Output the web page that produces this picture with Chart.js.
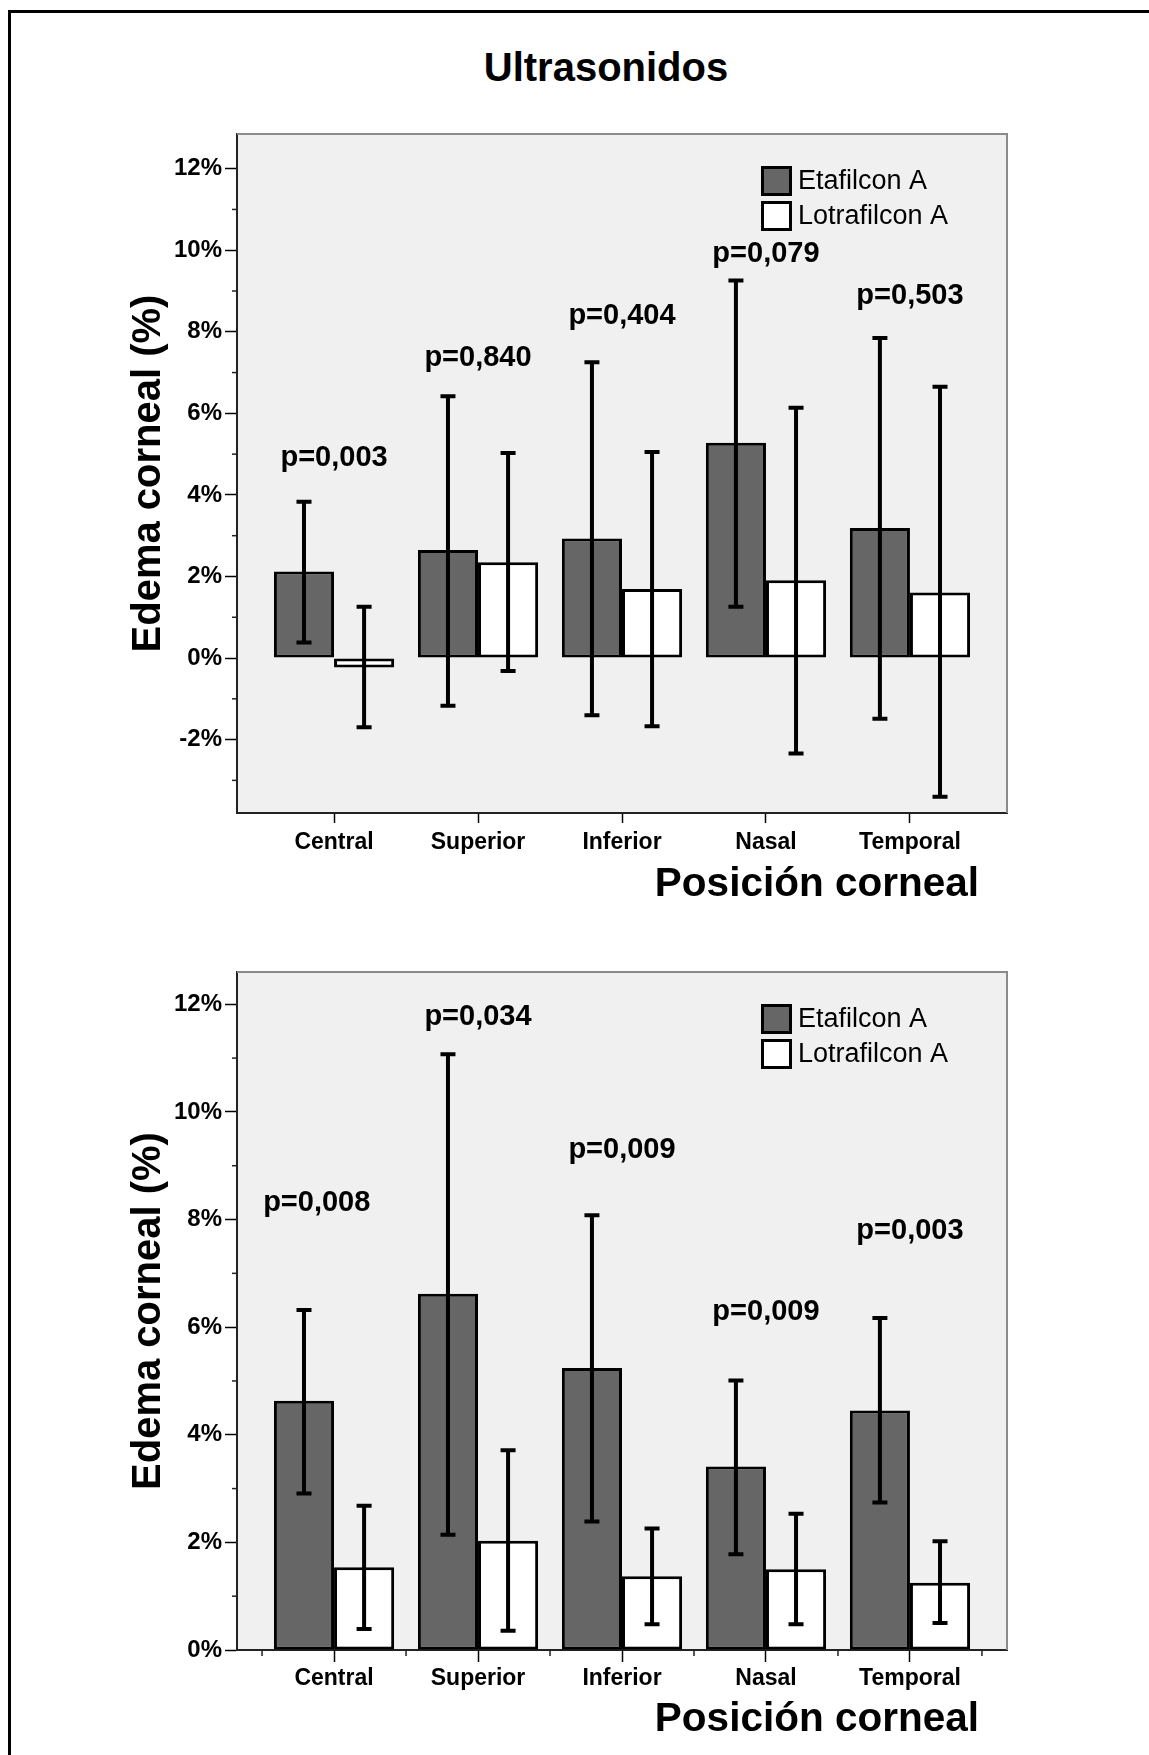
<!DOCTYPE html>
<html>
<head>
<meta charset="utf-8">
<script src="https://cdn.jsdelivr.net/npm/chart.js@4.4.1/dist/chart.umd.min.js"></script>
<style>
  html, body { margin: 0; padding: 0; background: #fff; }
  body { width: 1149px; height: 1755px; position: relative; overflow: hidden; font-family: 'Liberation Sans', Arial, sans-serif; }
  #frame { position: absolute; left: 8px; top: 10px; width: 1200px; height: 1800px; border-top: 3px solid #000; border-left: 3px solid #000; }
  #title { position: absolute; left: 0; top: 46px; width: 1212px; text-align: center; font-weight: bold; font-size: 40px; line-height: 42px; color: #000; }
  .box { position: absolute; left: 0; width: 1149px; }
  #box1 { top: 0; height: 900px; }
  #box2 { top: 902px; height: 853px; }
</style>
</head>
<body>
<div id="frame"></div>
<div id="title">Ultrasonidos</div>
<div class="box" id="box1"><canvas id="chart1" width="1149" height="900"></canvas></div>
<div class="box" id="box2"><canvas id="chart2" width="1149" height="853"></canvas></div>

<script>
// categories and series
const categories = ['Central', 'Superior', 'Inferior', 'Nasal', 'Temporal'];
const seriesNames = ['Etafilcon A', 'Lotrafilcon A'];

// upper chart (Ultrasonidos) - means and error bar limits, in %
const etaUS = [2.12, 2.65, 2.93, 5.28, 3.19];
const etaUSLow = [0.38, -1.17, -1.40, 1.26, -1.49];
const etaUSHigh = [3.83, 6.42, 7.25, 9.26, 7.85];
const lotUS = [-0.23, 2.35, 1.69, 1.91, 1.61];
const lotUSLow = [-1.70, -0.32, -1.67, -2.34, -3.40];
const lotUSHigh = [1.26, 5.03, 5.05, 6.14, 6.65];
const pUS = ['p=0,003', 'p=0,840', 'p=0,404', 'p=0,079', 'p=0,503'];
const pUSX = [0, 1, 2, 3, 4];
const pUSAt = [4.90, 7.35, 8.38, 9.90, 8.87];
const yTicksUS = [-2, 0, 2, 4, 6, 8, 10, 12];

// lower chart
const eta2 = [4.63, 6.62, 5.24, 3.41, 4.45];
const eta2Low = [2.91, 2.14, 2.39, 1.78, 2.74];
const eta2High = [6.32, 11.07, 8.08, 5.01, 6.17];
const lot2 = [1.54, 2.03, 1.37, 1.50, 1.25];
const lot2Low = [0.39, 0.36, 0.48, 0.48, 0.50];
const lot2High = [2.68, 3.71, 2.26, 2.53, 2.02];
const p2 = ['p=0,008', 'p=0,034', 'p=0,009', 'p=0,009', 'p=0,003'];
const p2X = [-0.12, 1, 2, 3, 4];
const p2At = [8.30, 11.77, 9.30, 6.29, 7.78];
const yTicks2 = [0, 2, 4, 6, 8, 10, 12];

const FONT = "'Liberation Sans', Arial, sans-serif";
const ETA_FILL = '#666666';
const LOT_FILL = '#ffffff';
const PLOT_BG = '#f0f0f0';

// draws plot background, frame, minor ticks, error bars, p-values, legend and x title
function makeDecor(cfg) {
  return {
    id: 'spssDecor',
    beforeDraw(chart) {
      const { ctx, chartArea: a } = chart;
      ctx.save();
      ctx.fillStyle = PLOT_BG;
      ctx.fillRect(a.left, a.top, a.right - a.left, a.bottom - a.top);
      ctx.restore();
    },
    beforeDatasetsDraw(chart) {
      const { ctx, chartArea: a } = chart;
      const x = chart.scales.x, y = chart.scales.y;
      ctx.save();
      ctx.strokeStyle = '#8a8a8a';
      ctx.lineWidth = 2;
      ctx.beginPath();
      ctx.moveTo(a.left, a.top);
      ctx.lineTo(a.right, a.top);
      ctx.lineTo(a.right, a.bottom);
      ctx.stroke();

      // minor ticks
      ctx.strokeStyle = '#222';
      ctx.lineWidth = 1.5;
      for (let v = Math.ceil(y.min); v <= y.max; v++) {
        if (Math.abs(v) % 2 !== 1) continue;
        const py = y.getPixelForValue(v);
        ctx.beginPath();
        ctx.moveTo(a.left - 5, py);
        ctx.lineTo(a.left, py);
        ctx.stroke();
      }
      if (cfg.minorX) {
        for (let i = 0; i <= categories.length; i++) {
          const px = x.getPixelForValue(i - 0.5);
          ctx.beginPath();
          ctx.moveTo(px, a.bottom);
          ctx.lineTo(px, a.bottom + 6);
          ctx.stroke();
        }
      }
      ctx.restore();
    },
    afterDatasetsDraw(chart) {
      const ctx = chart.ctx, y = chart.scales.y;
      const lows = [cfg.etaLow, cfg.lotLow];
      const highs = [cfg.etaHigh, cfg.lotHigh];
      ctx.save();
      ctx.strokeStyle = '#000';
      ctx.lineWidth = 4;
      ctx.lineCap = 'butt';
      for (let d = 0; d < 2; d++) {
        chart.getDatasetMeta(d).data.forEach((bar, i) => {
          const top = y.getPixelForValue(highs[d][i]);
          const bot = y.getPixelForValue(lows[d][i]);
          ctx.beginPath();
          ctx.moveTo(bar.x, top);
          ctx.lineTo(bar.x, bot);
          ctx.moveTo(bar.x - 7.5, top);
          ctx.lineTo(bar.x + 7.5, top);
          ctx.moveTo(bar.x - 7.5, bot);
          ctx.lineTo(bar.x + 7.5, bot);
          ctx.stroke();
        });
      }
      ctx.restore();
    },
    afterDraw(chart) {
      const { ctx, chartArea: a } = chart;
      const x = chart.scales.x, y = chart.scales.y;
      ctx.save();
      ctx.fillStyle = '#000';

      // p-values
      ctx.font = 'bold 29px ' + FONT;
      ctx.textAlign = 'center';
      ctx.textBaseline = 'middle';
      cfg.pLabels.forEach((t, i) => {
        ctx.fillText(t, x.getPixelForValue(cfg.pX[i]), y.getPixelForValue(cfg.pAt[i]));
      });

      // legend
      ctx.font = '27px ' + FONT;
      ctx.textAlign = 'left';
      chart.data.datasets.forEach((ds, d) => {
        const bx = a.left + 524, by = a.top + 32 + d * 35;
        ctx.fillStyle = ds.backgroundColor;
        ctx.fillRect(bx, by, 31, 30);
        ctx.strokeStyle = '#000';
        ctx.lineWidth = 3;
        ctx.strokeRect(bx + 1.5, by + 1.5, 28, 27);
        ctx.fillStyle = '#000';
        ctx.fillText(ds.label, bx + 37, by + 16);
      });

      // x axis title
      ctx.font = 'bold 40.5px ' + FONT;
      ctx.textAlign = 'right';
      ctx.fillText('Posición corneal', x.getPixelForValue(categories.length - 0.5) - 3, a.bottom + cfg.xTitleGap);
      ctx.restore();
    }
  };
}

function buildChart(canvasId, cfg) {
  const toPoints = arr => arr.map((v, i) => ({ x: i, y: v }));
  return new Chart(document.getElementById(canvasId), {
    type: 'bar',
    data: {
      datasets: [
        { label: seriesNames[0], data: toPoints(cfg.eta), backgroundColor: ETA_FILL, borderColor: '#000', borderWidth: 3, borderSkipped: false },
        { label: seriesNames[1], data: toPoints(cfg.lot), backgroundColor: LOT_FILL, borderColor: '#000', borderWidth: 3, borderSkipped: false }
      ]
    },
    options: {
      responsive: false,
      animation: false,
      layout: { padding: cfg.padding },
      datasets: { bar: { categoryPercentage: 0.835, barPercentage: 1 } },
      plugins: { legend: { display: false }, tooltip: { enabled: false }, title: { display: false } },
      scales: {
        x: {
          type: 'linear',
          offset: false,
          min: -0.5 - cfg.margin,
          max: categories.length - 0.5 + cfg.margin,
          afterFit: s => { s.height = cfg.xHeight; },
          afterBuildTicks: s => { s.ticks = categories.map((c, i) => ({ value: i })); },
          ticks: {
            autoSkip: false, maxRotation: 0, padding: cfg.xPad, color: '#000',
            font: { family: FONT, size: 23, weight: 'bold' },
            callback: v => categories[v]
          },
          grid: { offset: false, drawOnChartArea: false, tickLength: cfg.xTick, tickColor: '#000', tickWidth: 1.5 },
          border: { color: '#222', width: 2 }
        },
        y: {
          min: cfg.yMin,
          max: cfg.yMax,
          afterFit: s => { s.width = 112; },
          afterBuildTicks: s => { s.ticks = cfg.yTicks.map(v => ({ value: v })); },
          ticks: {
            padding: 3, color: '#000',
            font: { family: FONT, size: 24, weight: 'bold' },
            callback: v => v + '%'
          },
          grid: { drawOnChartArea: false, tickLength: 12, tickColor: '#000', tickWidth: 1.5 },
          border: { color: '#222', width: 2 },
          title: {
            display: true, text: 'Edema corneal (%)', color: '#000', padding: 0,
            font: { family: FONT, size: 40, weight: 'bold', lineHeight: 1.2 }
          }
        }
      }
    },
    plugins: [makeDecor(cfg)]
  });
}

buildChart('chart1', {
  eta: etaUS, etaLow: etaUSLow, etaHigh: etaUSHigh,
  lot: lotUS, lotLow: lotUSLow, lotHigh: lotUSHigh,
  pLabels: pUS, pX: pUSX, pAt: pUSAt, yTicks: yTicksUS,
  yMin: -3.8, yMax: 12.85, margin: 0.174,
  padding: { left: 125, top: 134, right: 142, bottom: 0 },
  xHeight: 87, xTick: 10, xPad: 6, xTitleGap: 72, minorX: false
});

buildChart('chart2', {
  eta: eta2, etaLow: eta2Low, etaHigh: eta2High,
  lot: lot2, lotLow: lot2Low, lotHigh: lot2High,
  pLabels: p2, pX: p2X, pAt: p2At, yTicks: yTicks2,
  yMin: 0, yMax: 12.6, margin: 0.174,
  padding: { left: 125, top: 70, right: 142, bottom: 0 },
  xHeight: 105, xTick: 12, xPad: 3, xTitleGap: 70, minorX: true
});
</script>
</body>
</html>
